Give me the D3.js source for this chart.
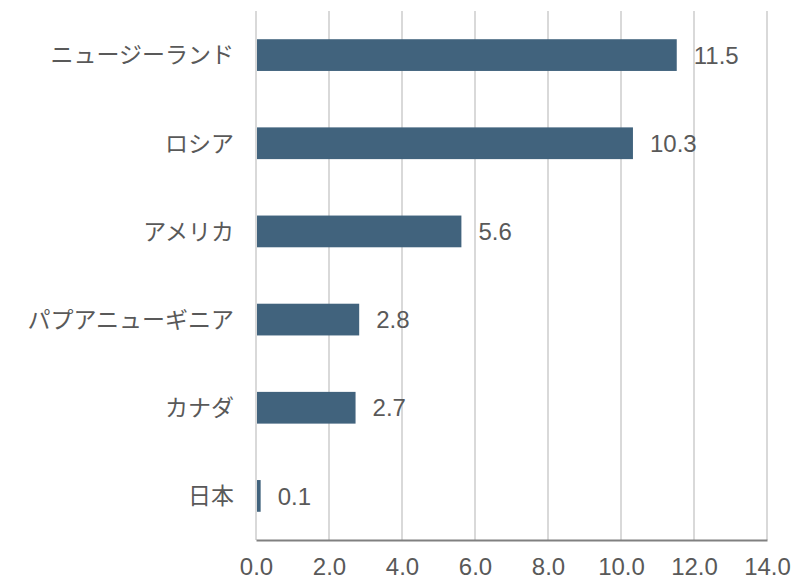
<!DOCTYPE html>
<html>
<head>
<meta charset="utf-8">
<script src="https://cdn.jsdelivr.net/npm/d3@7"></script>
<style>
  html, body { margin: 0; padding: 0; background: #fff; }
  svg { display: block; font-family: "Liberation Sans", Arial, "Noto Sans CJK JP", sans-serif; }
</style>
</head>
<body>
<svg id="chart" width="796" height="582"></svg>
<script>
// Values per country
const countries = ["ニュージーランド", "ロシア", "アメリカ", "パプアニューギニア", "カナダ", "日本"];
const values = [11.5, 10.3, 5.6, 2.8, 2.7, 0.1];
const xTicks = [0, 2, 4, 6, 8, 10, 12, 14];

const margin = { top: 11, right: 29, bottom: 42, left: 256 };
const width = 796, height = 582;
const svg = d3.select("#chart");

const x = d3.scaleLinear().domain([0, 14]).range([margin.left, width - margin.right]);
const y = d3.scaleBand().domain(countries).range([margin.top, height - margin.bottom]).paddingInner(0.64).paddingOuter(0.32);

// vertical gridlines
svg.append("g").selectAll("line").data(xTicks).join("line")
  .attr("x1", d => x(d)).attr("x2", d => x(d))
  .attr("y1", margin.top).attr("y2", height - margin.bottom)
  .attr("stroke", "#d9d9d9").attr("stroke-width", 2);

// bars
svg.append("g").selectAll("rect").data(values).join("rect")
  .attr("x", x(0) + 1)
  .attr("y", (d, i) => y(countries[i]))
  .attr("width", d => x(d) - x(0))
  .attr("height", y.bandwidth())
  .attr("fill", "#41637d");

// value labels
svg.append("g").selectAll("text").data(values).join("text")
  .attr("x", d => x(d) + 18)
  .attr("y", (d, i) => y(countries[i]) + y.bandwidth() / 2)
  .attr("dy", "0.36em")
  .attr("font-size", 24)
  .attr("fill", "#595959")
  .text(d => d.toFixed(1));

// category labels
svg.append("g").selectAll("text").data(countries).join("text")
  .attr("x", x(0) - 22)
  .attr("y", d => y(d) + y.bandwidth() / 2)
  .attr("dy", "0.36em")
  .attr("text-anchor", "end")
  .attr("font-size", 23)
  .attr("fill", "#595959")
  .text(d => d);

// x axis
const xAxis = d3.axisBottom(x).tickValues(xTicks).tickFormat(d3.format(".1f")).tickSize(0).tickPadding(18);
const ax = svg.append("g").attr("transform", `translate(0,${height - margin.bottom})`).call(xAxis);
ax.select(".domain").attr("stroke", "#808080").attr("stroke-width", 2);
ax.selectAll("text").attr("font-size", 24).attr("fill", "#595959").attr("font-family", "'Liberation Sans', Arial, sans-serif");
</script>
</body>
</html>
